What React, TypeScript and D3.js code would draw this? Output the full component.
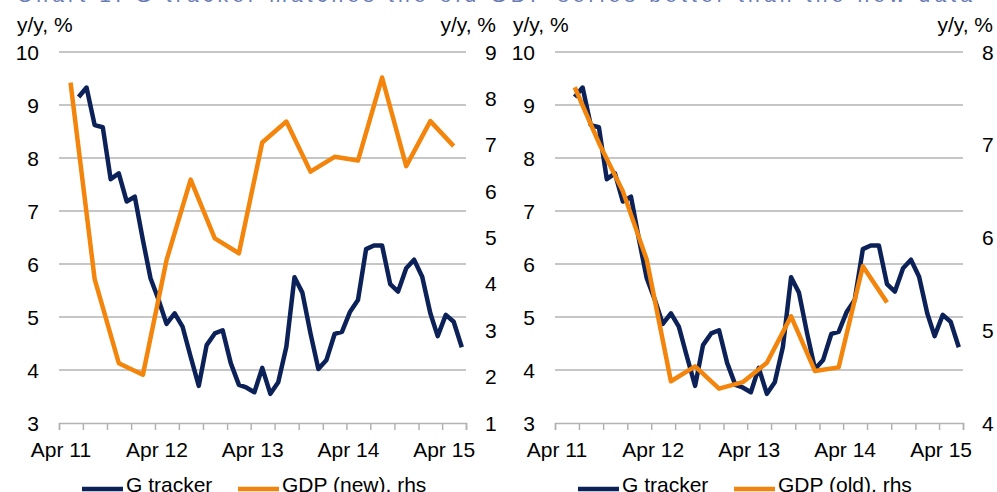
import React, { useEffect, useRef } from "react";
import * as d3 from "d3";

// G tracker, monthly, Jun 2011 - Jun 2015 (y/y, %)
const trackerStart = new Date(2011, 5, 15);
const trackerValues = [
  9.15, 9.33, 8.62, 8.58, 7.6, 7.71, 7.18, 7.27, 6.45, 5.73, 5.32, 4.87,
  5.07, 4.82, 4.25, 3.7, 4.47, 4.69, 4.75, 4.13, 3.72, 3.67, 3.58, 4.04,
  3.55, 3.77, 4.44, 5.75, 5.46, 4.69, 4.02, 4.19, 4.68, 4.72, 5.1, 5.32,
  6.28, 6.35, 6.35, 5.62, 5.48, 5.92, 6.08, 5.76, 5.07, 4.64, 5.04, 4.91,
  4.43,
];

// GDP (new), quarterly, plotted at mid-quarter month, Q2 2011 - Q2 2015
const gdpNewStart = new Date(2011, 4, 15);
const gdpNewValues = [
  8.34, 4.1, 2.29, 2.04, 4.51, 6.25, 4.98, 4.66, 7.05, 7.5, 6.42, 6.74,
  6.66, 8.45, 6.54, 7.51, 6.97,
];

// GDP (old), quarterly, plotted at quarter-end month, Q2 2011 - Q3 2014
const gdpOldStart = new Date(2011, 5, 15);
const gdpOldValues = [
  7.62, 7.02, 6.5, 5.76, 4.45, 4.61, 4.37, 4.44, 4.65, 5.15, 4.56, 4.6,
  5.69, 5.3,
];

const leftTicks = [3, 4, 5, 6, 7, 8, 9, 10];
const rightTicksNew = [1, 2, 3, 4, 5, 6, 7, 8, 9];
const rightTicksOld = [4, 5, 6, 7, 8];

const NAVY = "#0b2158";
const ORANGE = "#f3850d";
const GRID = "#b3b3b3";
const FONT = "'Liberation Sans', Arial, sans-serif";

const App = () => {
  const svgRef = useRef<SVGSVGElement>(null);

  useEffect(() => {
    const svg = d3.select(svgRef.current);
    svg.selectAll("*").remove();

    const top = 52;
    const bottom = 423;

    // faint title line, mostly cut off at the top edge
    svg
      .append("text")
      .attr("x", 17)
      .attr("y", 1.5)
      .attr("fill", "#6a7cb4")
      .attr("font-family", FONT)
      .attr("font-size", 21)
      .attr("textLength", 955)
      .text("Chart 1: G tracker matches the old GDP series better than the new data");

    const makeDates = (start: Date, n: number, step: number) =>
      d3.range(n).map((i) => d3.timeMonth.offset(start, i * step));

    const tracker = trackerValues.map((v, i) => ({
      date: makeDates(trackerStart, trackerValues.length, 1)[i],
      value: v,
    }));
    const gdpNew = gdpNewValues.map((v, i) => ({
      date: makeDates(gdpNewStart, gdpNewValues.length, 3)[i],
      value: v,
    }));
    const gdpOld = gdpOldValues.map((v, i) => ({
      date: makeDates(gdpOldStart, gdpOldValues.length, 3)[i],
      value: v,
    }));

    const panels = [
      {
        x0: 59,
        x1: 466,
        rhs: [1, 9],
        rhsTicks: rightTicksNew,
        gdp: gdpNew,
        gdpLabel: "GDP (new), rhs",
      },
      {
        x0: 555,
        x1: 963,
        rhs: [4, 8],
        rhsTicks: rightTicksOld,
        gdp: gdpOld,
        gdpLabel: "GDP (old), rhs",
      },
    ];

    panels.forEach((p) => {
      const g = svg.append("g");

      const xScale = d3
        .scaleTime()
        .domain([new Date(2011, 3, 1), new Date(2015, 6, 1)])
        .range([p.x0, p.x1]);

      const yLeft = d3.scaleLinear().domain([3, 10]).range([bottom, top]);
      const yRight = d3.scaleLinear().domain(p.rhs).range([bottom, top]);

      // gridlines
      g.selectAll(".grid")
        .data(leftTicks.filter((t) => t > 3))
        .enter()
        .append("line")
        .attr("x1", p.x0)
        .attr("x2", p.x1)
        .attr("y1", (d) => yLeft(d))
        .attr("y2", (d) => yLeft(d))
        .attr("stroke", GRID)
        .attr("stroke-width", 1.5);

      // x axis
      const xAxis = d3
        .axisBottom(xScale)
        .tickValues(d3.timeMonth.range(new Date(2011, 3, 1), new Date(2015, 6, 2), 3))
        .tickSize(7)
        .tickFormat(() => "");
      const xg = g
        .append("g")
        .attr("transform", `translate(0,${bottom})`)
        .call(xAxis);
      xg.select(".domain").attr("stroke", GRID).attr("stroke-width", 1.5);
      xg.selectAll(".tick line").attr("stroke", GRID).attr("stroke-width", 1.5);

      g.selectAll(".xlab")
        .data(d3.timeYear.range(new Date(2011, 0, 1), new Date(2016, 0, 1)))
        .enter()
        .append("text")
        .attr("x", (d) => xScale(new Date(d.getFullYear(), 3, 1)) + 2)
        .attr("y", 457)
        .attr("text-anchor", "middle")
        .attr("font-family", FONT)
        .attr("font-size", 21)
        .attr("fill", "#000")
        .text((d) => d3.timeFormat("%b %y")(new Date(d.getFullYear(), 3, 1)));

      // left axis labels
      g.selectAll(".ylab")
        .data(leftTicks)
        .enter()
        .append("text")
        .attr("x", p.x0 - 20)
        .attr("y", (d) => yLeft(d))
        .attr("dy", "0.36em")
        .attr("text-anchor", "end")
        .attr("font-family", FONT)
        .attr("font-size", 21)
        .text((d) => d);

      // right axis labels
      g.selectAll(".rlab")
        .data(p.rhsTicks)
        .enter()
        .append("text")
        .attr("x", p.x1 + 19)
        .attr("y", (d) => yRight(d))
        .attr("dy", "0.36em")
        .attr("font-family", FONT)
        .attr("font-size", 21)
        .text((d) => d);

      // axis titles
      g.append("text")
        .attr("x", p.x0 - 42)
        .attr("y", 32)
        .attr("font-family", FONT)
        .attr("font-size", 21)
        .text("y/y, %");
      g.append("text")
        .attr("x", p.x1 + 30)
        .attr("y", 32)
        .attr("text-anchor", "end")
        .attr("font-family", FONT)
        .attr("font-size", 21)
        .text("y/y, %");

      // series
      const lineLeft = d3
        .line<{ date: Date; value: number }>()
        .x((d) => xScale(d.date))
        .y((d) => yLeft(d.value));
      const lineRight = d3
        .line<{ date: Date; value: number }>()
        .x((d) => xScale(d.date))
        .y((d) => yRight(d.value));

      g.append("path")
        .datum(tracker)
        .attr("d", lineLeft)
        .attr("fill", "none")
        .attr("stroke", NAVY)
        .attr("stroke-width", 4.5)
        .attr("stroke-linejoin", "round");

      g.append("path")
        .datum(p.gdp)
        .attr("d", lineRight)
        .attr("fill", "none")
        .attr("stroke", ORANGE)
        .attr("stroke-width", 4.5)
        .attr("stroke-linejoin", "round");

      // legend
      const legend = [
        { label: "G tracker", color: NAVY, x: p.x0 + 23 },
        { label: p.gdpLabel, color: ORANGE, x: p.x0 + 179 },
      ];
      legend.forEach((l) => {
        g.append("line")
          .attr("x1", l.x)
          .attr("x2", l.x + 41)
          .attr("y1", 489)
          .attr("y2", 489)
          .attr("stroke", l.color)
          .attr("stroke-width", 4.5);
        g.append("text")
          .attr("x", l.x + 44)
          .attr("y", 492)
          .attr("font-family", FONT)
          .attr("font-size", 21)
          .text(l.label);
      });
    });
  }, []);

  return (
    <svg
      ref={svgRef}
      width={997}
      height={492}
      style={{ position: "absolute", left: 0, top: 0, background: "#fff" }}
    />
  );
};

export default App;
